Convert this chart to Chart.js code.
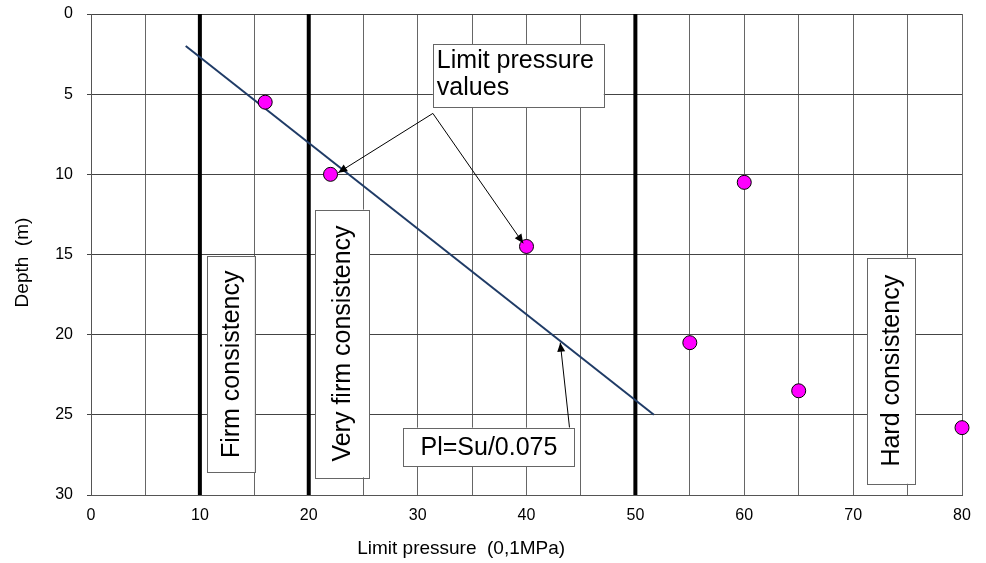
<!DOCTYPE html>
<html>
<head>
<meta charset="utf-8">
<script src="https://cdn.jsdelivr.net/npm/chart.js@4"></script>
<style>
  body { margin: 0; background: #fff; }
  #wrap { width: 986px; height: 563px; }
</style>
</head>
<body>
<div id="wrap"><canvas id="myChart" width="986" height="563"></canvas></div>
<script>
const ctx = document.getElementById('myChart');
const FONT = '"Liberation Sans", Arial, sans-serif';

// measured limit pressure points (x = Pl in 0,1MPa, y = depth in m)
const PL_values = [16, 22, 40, 60, 55, 65, 80];
const DEPTH_values = [5.5, 10, 14.5, 10.5, 20.5, 23.5, 25.8];

// Pl = Su/0.075 trend line end points
const TREND_x = [8.7, 51.7];
const TREND_y = [2, 25];

// consistency boundaries
const BOUNDARIES = [10, 20, 50];

// axis titles
const X_TITLE = 'Limit pressure  (0,1MPa)';
const Y_TITLE = 'Depth  (m)';

// text boxes: [x1, x2, y1, y2] in data units
const LABELS = [
  { text: ['Limit pressure', 'values'], box: [31.4, 47.1, 1.9, 5.8], rot: false },
  { text: ['Firm consistency'], box: [10.65, 15.05, 15.1, 28.6], rot: true },
  { text: ['Very firm consistency'], box: [20.6, 25.6, 12.2, 28.9], rot: true },
  { text: ['Hard consistency'], box: [71.3, 75.7, 15.2, 29.3], rot: true },
  { text: ['Pl=Su/0.075'], box: [28.7, 44.4, 25.8, 28.2], rot: false }
];

// arrows: from [x,y] to [x,y] in data units
const ARROWS = [
  [[31.4, 6.2], [22.7, 9.9]],
  [[31.4, 6.2], [39.7, 14.3]],
  [[43.95, 25.8], [43.1, 20.5]]
];

const points = PL_values.map((v, i) => ({ x: v, y: DEPTH_values[i] }));
const trend = TREND_x.map((v, i) => ({ x: v, y: TREND_y[i] }));

const boundarySets = BOUNDARIES.map(b => ({
  type: 'scatter',
  data: [{ x: b, y: 0 }, { x: b, y: 30 }],
  showLine: true,
  borderColor: '#000',
  borderWidth: 4,
  pointRadius: 0,
  order: 3
}));

const annotations = {
  id: 'annotations',
  afterDatasetsDraw(chart) {
    const c = chart.ctx;
    const xs = chart.scales.x, ys = chart.scales.y;
    c.save();
    // arrows
    c.strokeStyle = '#000';
    c.fillStyle = '#000';
    c.lineWidth = 1;
    ARROWS.forEach(a => {
      const x1 = xs.getPixelForValue(a[0][0]), y1 = ys.getPixelForValue(a[0][1]);
      const x2 = xs.getPixelForValue(a[1][0]), y2 = ys.getPixelForValue(a[1][1]);
      c.beginPath();
      c.moveTo(x1, y1);
      c.lineTo(x2, y2);
      c.stroke();
      const ang = Math.atan2(y2 - y1, x2 - x1);
      const len = 9, w = 4;
      c.beginPath();
      c.moveTo(x2, y2);
      c.lineTo(x2 - len * Math.cos(ang) + w * Math.sin(ang), y2 - len * Math.sin(ang) - w * Math.cos(ang));
      c.lineTo(x2 - len * Math.cos(ang) - w * Math.sin(ang), y2 - len * Math.sin(ang) + w * Math.cos(ang));
      c.closePath();
      c.fill();
    });
    // boxes
    c.font = '25px ' + FONT;
    LABELS.forEach(l => {
      const x1 = xs.getPixelForValue(l.box[0]), x2 = xs.getPixelForValue(l.box[1]);
      const y1 = ys.getPixelForValue(l.box[2]), y2 = ys.getPixelForValue(l.box[3]);
      c.fillStyle = '#fff';
      c.fillRect(x1, y1, x2 - x1, y2 - y1);
      c.strokeStyle = '#666';
      c.lineWidth = 1;
      c.strokeRect(Math.round(x1) + 0.5, Math.round(y1) + 0.5, Math.round(x2 - x1), Math.round(y2 - y1));
      c.fillStyle = '#000';
      if (l.rot) {
        c.save();
        c.translate((x1 + x2) / 2, (y1 + y2) / 2);
        c.rotate(-Math.PI / 2);
        c.textAlign = 'center';
        c.textBaseline = 'middle';
        c.fillText(l.text[0], 0, 1);
        c.restore();
      } else if (l.text.length > 1) {
        c.textAlign = 'left';
        c.textBaseline = 'middle';
        c.fillText(l.text[0], x1 + 4, y1 + 17);
        c.fillText(l.text[1], x1 + 4, y1 + 44);
      } else {
        c.textAlign = 'center';
        c.textBaseline = 'middle';
        c.fillText(l.text[0], (x1 + x2) / 2, (y1 + y2) / 2 + 1);
      }
    });
    c.restore();
  },
  afterDraw(chart) {
    // axis titles, placed like the original (x title sits left of centre)
    const c = chart.ctx;
    const xs = chart.scales.x, ys = chart.scales.y;
    c.save();
    c.fillStyle = '#000';
    c.font = '19px ' + FONT;
    c.textAlign = 'center';
    c.textBaseline = 'middle';
    c.fillText(X_TITLE, xs.getPixelForValue(34), 549);
    c.translate(23, ys.getPixelForValue(15.5));
    c.rotate(-Math.PI / 2);
    c.fillText(Y_TITLE, 0, 0);
    c.restore();
  }
};

window.myChart = new Chart(ctx, {
  type: 'scatter',
  data: {
    datasets: [{
      label: 'Limit pressure',
      data: points,
      backgroundColor: '#FF00FF',
      borderColor: '#000',
      borderWidth: 1,
      pointRadius: 7,
      clip: false,
      order: 1
    }, {
      label: 'Pl=Su/0.075',
      data: trend,
      showLine: true,
      borderColor: '#1F3B66',
      borderWidth: 2,
      pointRadius: 0,
      order: 2
    }, ...boundarySets]
  },
  options: {
    responsive: false,
    animation: false,
    devicePixelRatio: 1,
    layout: { padding: { left: 0, right: 24, top: 14, bottom: 0 } },
    plugins: {
      legend: { display: false },
      tooltip: { enabled: false }
    },
    scales: {
      x: {
        type: 'linear',
        min: 0,
        max: 80,
        border: { display: true, color: '#555', width: 1 },
        grid: { color: '#666', drawTicks: false },
        ticks: {
          stepSize: 5,
          color: '#000',
          font: { family: FONT, size: 16 },
          padding: 11,
          maxRotation: 0,
          autoSkip: false,
          callback: v => (v % 10 === 0 ? v : '')
        },
        afterFit: s => { s.height = 68; s.paddingLeft = 0; s.paddingRight = 0; }
      },
      y: {
        type: 'linear',
        reverse: true,
        min: 0,
        max: 30,
        border: { display: true, color: '#555', width: 1 },
        grid: { color: '#444', tickLength: 4 },
        ticks: {
          stepSize: 5,
          color: '#000',
          font: { family: FONT, size: 16 },
          padding: 14
        },
        afterFit: s => { s.width = 91; s.paddingTop = 0; s.paddingBottom = 0; }
      }
    }
  },
  plugins: [annotations]
});
</script>
</body>
</html>
